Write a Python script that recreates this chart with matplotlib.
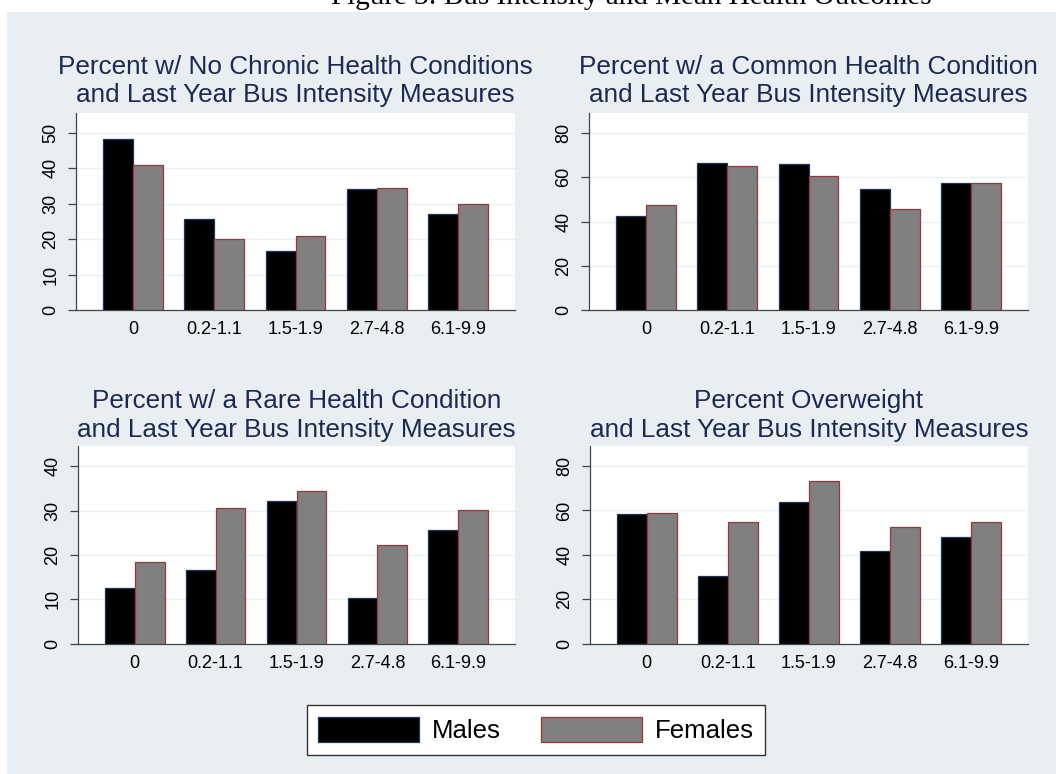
import matplotlib
matplotlib.use("Agg")
import matplotlib.pyplot as plt
from matplotlib.patches import Rectangle, Patch
import numpy as np

# ---- data ----
categories = ['0', '0.2-1.1', '1.5-1.9', '2.7-4.8', '6.1-9.9']
no_chronic_m = [48.1, 25.7, 16.6, 34.2, 27.1]
no_chronic_f = [40.8, 20.1, 20.9, 34.5, 30.0]
common_m = [42.5, 66.5, 65.9, 54.8, 57.3]
common_f = [47.3, 65.0, 60.4, 45.6, 57.3]
rare_m = [12.6, 16.7, 32.1, 10.3, 25.7]
rare_f = [18.4, 30.6, 34.4, 22.2, 30.2]
over_m = [58.4, 30.7, 63.7, 41.6, 48.2]
over_f = [59.0, 55.0, 73.4, 52.4, 55.0]
titles = [
    ("Percent w/ No Chronic Health Conditions", "and Last Year Bus Intensity Measures"),
    ("Percent w/ a Common Health Condition", "and Last Year Bus Intensity Measures"),
    ("Percent w/ a Rare Health Condition", "and Last Year Bus Intensity Measures"),
    ("Percent Overweight", "and Last Year Bus Intensity Measures"),
]
yticks_list = [np.arange(0, 51, 10), np.arange(0, 81, 20), np.arange(0, 41, 10), np.arange(0, 81, 20)]
ylims = [55.5, 89.0, 44.6, 89.1]
legend_labels = ['Males', 'Females']

W, H = 1056, 774
plt.rcParams['font.family'] = ['Liberation Sans', 'DejaVu Sans']

fig = plt.figure(figsize=(W / 100, H / 100), dpi=100, facecolor='white')

BG = '#e8eef1'
TITLE_C = '#1c2a4f'
AX_C = '#444444'
GRID_C = '#e9f0f2'
M_FACE, M_EDGE = '#000000', '#1f3556'
F_FACE, F_EDGE = '#808080', '#93383c'
TICK_FS = 13

fig.patches.append(Rectangle((7 / W, 0), (W - 7) / W, (H - 12) / H,
                             transform=fig.transFigure, facecolor=BG,
                             edgecolor='none', zorder=-5))

fig.text(631 / W, 1 - 4 / H, "Figure 3: Bus Intensity and Mean Health Outcomes",
         family=['Liberation Serif', 'DejaVu Serif'], fontsize=21,
         ha='center', va='baseline', color='black')


def rect(x0, y0, x1, y1):
    return [x0 / W, 1 - y1 / H, (x1 - x0) / W, (y1 - y0) / H]


boxes = [(76, 113, 515, 310), (589, 113, 1028, 310.3),
         (78, 445.7, 515, 643.8), (590, 445.7, 1028, 643.8)]
title_y = [(67, 95), (67, 95), (400.7, 430), (400.7, 430)]
data = [(no_chronic_m, no_chronic_f), (common_m, common_f),
        (rare_m, rare_f), (over_m, over_f)]

x = np.arange(len(categories))
bw = 0.369
for i, (box, (m, f)) in enumerate(zip(boxes, data)):
    ax = fig.add_axes(rect(*box))
    ax.set_zorder(2)
    ax.set_facecolor('white')
    ax.bar(x - bw / 2, m, width=bw, color=M_FACE, edgecolor=M_EDGE, linewidth=0.9, zorder=3)
    ax.bar(x + bw / 2, f, width=bw, color=F_FACE, edgecolor=F_EDGE, linewidth=0.9, zorder=3)
    ax.set_xlim(-0.70, 4.70)
    ax.set_ylim(0, ylims[i])
    ax.set_yticks(yticks_list[i])
    ax.set_xticks(x)
    ax.set_xticklabels(categories)
    for yv in yticks_list[i][1:]:
        ax.axhline(yv, color=GRID_C, lw=1.0, zorder=1)
    for s in ['top', 'right']:
        ax.spines[s].set_visible(False)
    for s in ['left', 'bottom']:
        ax.spines[s].set_color(AX_C)
        ax.spines[s].set_linewidth(0.9)
    ax.tick_params(axis='y', length=5.8, width=0.9, color=AX_C, pad=6,
                   labelsize=TICK_FS, labelcolor='black')
    for lab in ax.get_yticklabels():
        lab.set_rotation(90)
        lab.set_va('center')
    ax.tick_params(axis='x', length=0, pad=8, labelsize=TICK_FS, labelcolor='black')
    cx = (box[0] + box[2]) / 2
    for line, yy in zip(titles[i], title_y[i]):
        fig.text(cx / W, 1 - yy / H, line, ha='center', va='center',
                 fontsize=18.8, color=TITLE_C)

handles = [Patch(facecolor=M_FACE, edgecolor=M_EDGE, linewidth=0.9),
           Patch(facecolor=F_FACE, edgecolor=F_EDGE, linewidth=0.9)]
leg = fig.legend(handles, legend_labels, loc='center', ncol=2,
                 bbox_to_anchor=(536 / W, 1 - 730 / H),
                 fontsize=18.5, frameon=True, fancybox=False, framealpha=1,
                 handlelength=3.9, handleheight=1.1, handletextpad=0.5,
                 columnspacing=1.6, borderpad=0.45)
leg.get_frame().set_edgecolor('#333333')
leg.get_frame().set_linewidth(1.0)
leg.get_frame().set_facecolor('white')

fig.savefig('out.png', dpi=100, facecolor='white')
